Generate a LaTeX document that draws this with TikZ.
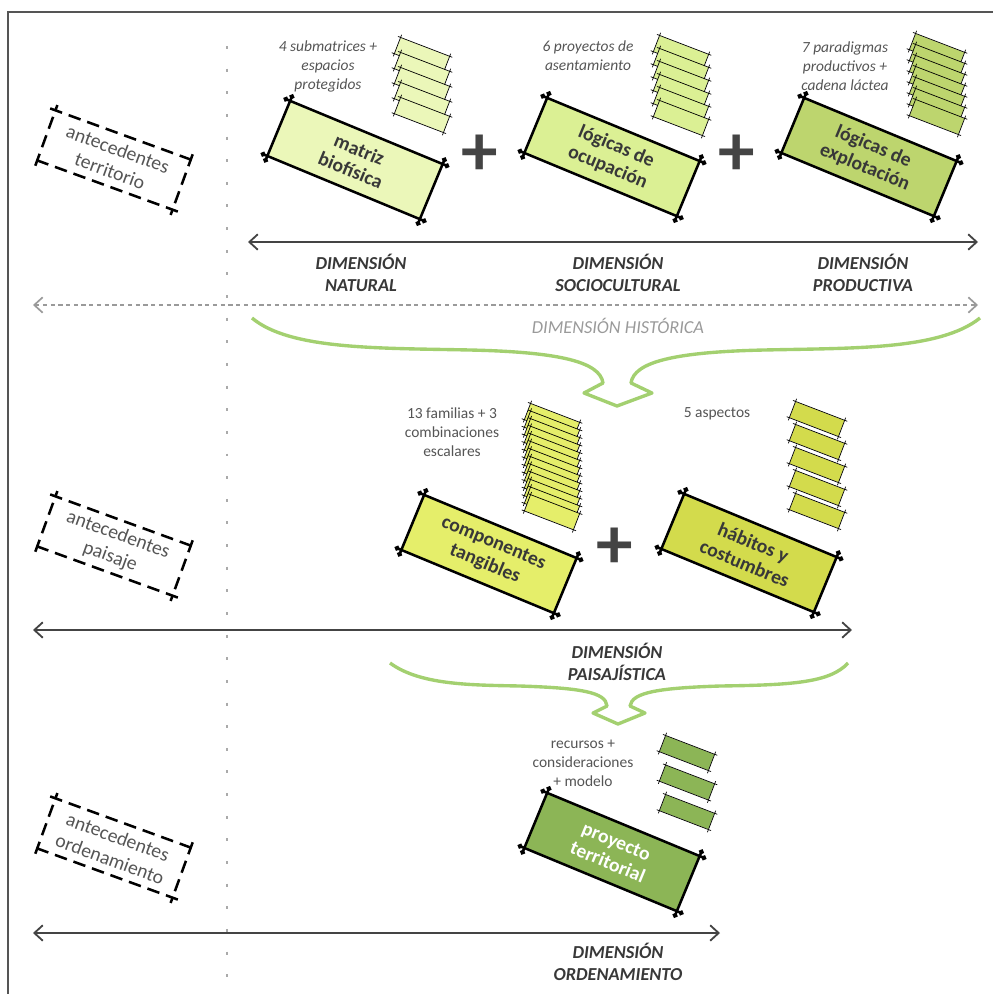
\documentclass[tikz,border=0pt]{standalone}
\usepackage{fontspec}
\setmainfont{Carlito}
\usepackage{tikz}
\usetikzlibrary{positioning}
\usetikzlibrary{arrows.meta}

\definecolor{natfill}{HTML}{EBF7B9}
\definecolor{socfill}{HTML}{DBF094}
\definecolor{prodfill}{HTML}{BDD56E}
\definecolor{tangfill}{HTML}{E5EE6A}
\definecolor{habfill}{HTML}{D3DB4C}
\definecolor{proyfill}{HTML}{8CB556}
\definecolor{bracegreen}{HTML}{A3D070}
\definecolor{axisgray}{HTML}{444444}
\definecolor{inkgray}{HTML}{383838}
\definecolor{textgray}{HTML}{555555}
\definecolor{histgray}{HTML}{9A9A9A}
\definecolor{dotgray}{HTML}{AAAAAA}

\begin{document}
\begin{tikzpicture}[
    x=0.025cm, y=-0.025cm,
    bigbox/.style={rotate=-22.5, minimum width=117pt, minimum height=42pt, inner sep=0pt, align=center, font=\fontsize{14}{16}\selectfont\bfseries, text=inkgray},
    tab/.style={rotate=-21, minimum width=37pt, minimum height=12pt, inner sep=0pt},
    dashbox/.style={rotate=-20, minimum width=102pt, minimum height=37.5pt, inner sep=0pt, align=center, font=\fontsize{14}{16.5}\selectfont, text=textgray},
    caption/.style={align=center, inner sep=0pt, font=\fontsize{11}{13.5}\selectfont, text=textgray},
    dimlabel/.style={align=center, inner sep=0pt, font=\fontsize{13}{15.5}\selectfont\bfseries\itshape, text=inkgray},
    plussign/.style={inner sep=0pt, font=\fontsize{52}{52}\selectfont\bfseries, text=axisgray},
    edge/.style={line width=1.8pt, black, shorten <=-5pt, shorten >=-5pt, {Circle[length=3.5pt]}-{Circle[length=3.5pt]}},
    tabedge/.style={line width=0.5pt, black, shorten <=-2pt, shorten >=-2pt},
    dashedge/.style={line width=1.8pt, black, dash pattern=on 9pt off 5pt, shorten <=-4pt, shorten >=-4pt},
    axis/.style={line width=1.3pt, axisgray, {Straight Barb[length=6pt,width=11pt]}-{Straight Barb[length=6pt,width=11pt]}},
    histaxis/.style={line width=1.2pt, histgray, dash pattern=on 3pt off 2.5pt, {Straight Barb[length=6pt,width=11pt]}-{Straight Barb[length=6pt,width=11pt]}},
    brace/.style={line width=2.4pt, bracegreen, line join=round}
    ]
    \useasboundingbox (0,0) rectangle (993,994);

    %Frame
    \draw[line width=1pt, textgray] (8,994) -- (8,12) -- (993,12);
    \draw[dotgray, line width=2.1pt, dash pattern=on 2.1pt off 14pt] (227,46) -- (227,992);

    %Boxes
    \node[bigbox, fill=natfill] (matriz) at (355,160) {matriz\\biofísica};
    \node[bigbox, fill=socfill] (ocupacion) at (612,157) {lógicas de\\ocupación};
    \node[bigbox, fill=prodfill] (explotacion) at (869,157) {lógicas de\\explotación};
    \node[bigbox, fill=tangfill] (tangibles) at (489,554) {componentes\\tangibles};
    \node[bigbox, fill=habfill] (habitos) at (749,553) {hábitos y\\costumbres};
    \node[bigbox, fill=proyfill, text=white] (proyecto) at (612,852) {proyecto\\territorial};

    \foreach \b in {matriz,ocupacion,explotacion,tangibles,habitos,proyecto} {
        \draw[edge] (\b.north west) -- (\b.north east);
        \draw[edge] (\b.north east) -- (\b.south east);
        \draw[edge] (\b.south east) -- (\b.south west);
        \draw[edge] (\b.south west) -- (\b.north west);
    }

    \node[plussign] (plusA) at (480,155) {+};
    \node[plussign] (plusB) at (737,155) {+};
    \node[plussign] (plusC) at (615,548) {+};

    %Stacks
    \foreach \s/\x/\y/\n/\d/\c in {A/422/55/4/15/natfill, B/681/53/5/13/socfill, C/937/51/6/11/prodfill, D/552/421/12/7.6/tangfill, E/817/419/4/23/habfill, F/687/753/2/29.5/proyfill} {
        \foreach \i in {0,...,\n} {
            \node[tab, fill=\c] (tab\s\i) at (\x,{\y+\d*\i}) {};
            \draw[tabedge] (tab\s\i.north west) -- (tab\s\i.north east);
            \draw[tabedge] (tab\s\i.north east) -- (tab\s\i.south east);
            \draw[tabedge] (tab\s\i.south east) -- (tab\s\i.south west);
            \draw[tabedge] (tab\s\i.south west) -- (tab\s\i.north west);
        }
    }

    \node[caption, font=\fontsize{11}{13.5}\selectfont\itshape] (capA) at (328,66) {4 submatrices +\\espacios\\protegidos};
    \node[caption, font=\fontsize{11}{13.5}\selectfont\itshape] (capB) at (588,56) {6 proyectos de\\asentamiento};
    \node[caption, font=\fontsize{11}{13.5}\selectfont\itshape] (capC) at (845,66) {7 paradigmas\\productivos +\\cadena láctea};
    \node[caption] (capD) at (452,432) {13 familias + 3\\combinaciones\\escalares};
    \node[caption] (capE) at (717,414) {5 aspectos};
    \node[caption] (capF) at (583,763) {recursos +\\consideraciones\\+ modelo};

    %Antecedentes
    \node[dashbox] (antTerr) at (114,160) {antecedentes\\territorio};
    \node[dashbox] (antPais) at (114,546) {antecedentes\\paisaje};
    \node[dashbox] (antOrd) at (114,848) {antecedentes\\ordenamiento};

    \foreach \b in {antTerr,antPais,antOrd} {
        \draw[dashedge] (\b.north west) -- (\b.north east);
        \draw[dashedge] (\b.north east) -- (\b.south east);
        \draw[dashedge] (\b.south east) -- (\b.south west);
        \draw[dashedge] (\b.south west) -- (\b.north west);
    }

    %Axes
    \coordinate (topL) at (248,242);
    \coordinate (topR) at (978,242);
    \coordinate (histL) at (33,305);
    \coordinate (histR) at (978,305);
    \coordinate (paiL) at (33,630);
    \coordinate (paiR) at (852,630);
    \coordinate (ordL) at (33,933);
    \coordinate (ordR) at (720,933);

    \draw[axis] (topL) -- (topR);
    \draw[histaxis] (histL) -- (histR);
    \draw[axis] (paiL) -- (paiR);
    \draw[axis] (ordL) -- (ordR);

    \node[dimlabel] (dimNat) at (361,273) {DIMENSIÓN\\NATURAL};
    \node[dimlabel] (dimSoc) at (618,273) {DIMENSIÓN\\SOCIOCULTURAL};
    \node[dimlabel] (dimProd) at (863,273) {DIMENSIÓN\\PRODUCTIVA};
    \node[font=\fontsize{13}{15.5}\selectfont\itshape, text=histgray, inner sep=0pt] (dimHist) at (618,326) {DIMENSIÓN HISTÓRICA};
    \node[dimlabel] (dimPai) at (617,662) {DIMENSIÓN\\PAISAJÍSTICA};
    \node[dimlabel] (dimOrd) at (618,962) {DIMENSIÓN\\ORDENAMIENTO};

    %Braces
    \draw[brace] (252,318) .. controls (290,350) and (380,348) .. (470,350)
        .. controls (560,352) and (600,362) .. (603,383)
        -- (584,393) -- (617,406) -- (652,393) -- (631,383)
        .. controls (634,362) and (674,352) .. (764,350)
        .. controls (854,348) and (940,350) .. (980,318);
    \draw[brace] (390,663) .. controls (420,685) and (470,685) .. (520,686)
        .. controls (580,688) and (606,692) .. (607,706)
        -- (593,713) -- (618,724) -- (645,713) -- (630,706)
        .. controls (632,692) and (660,688) .. (720,686)
        .. controls (790,685) and (830,683) .. (848,663);

\end{tikzpicture}
\end{document}
